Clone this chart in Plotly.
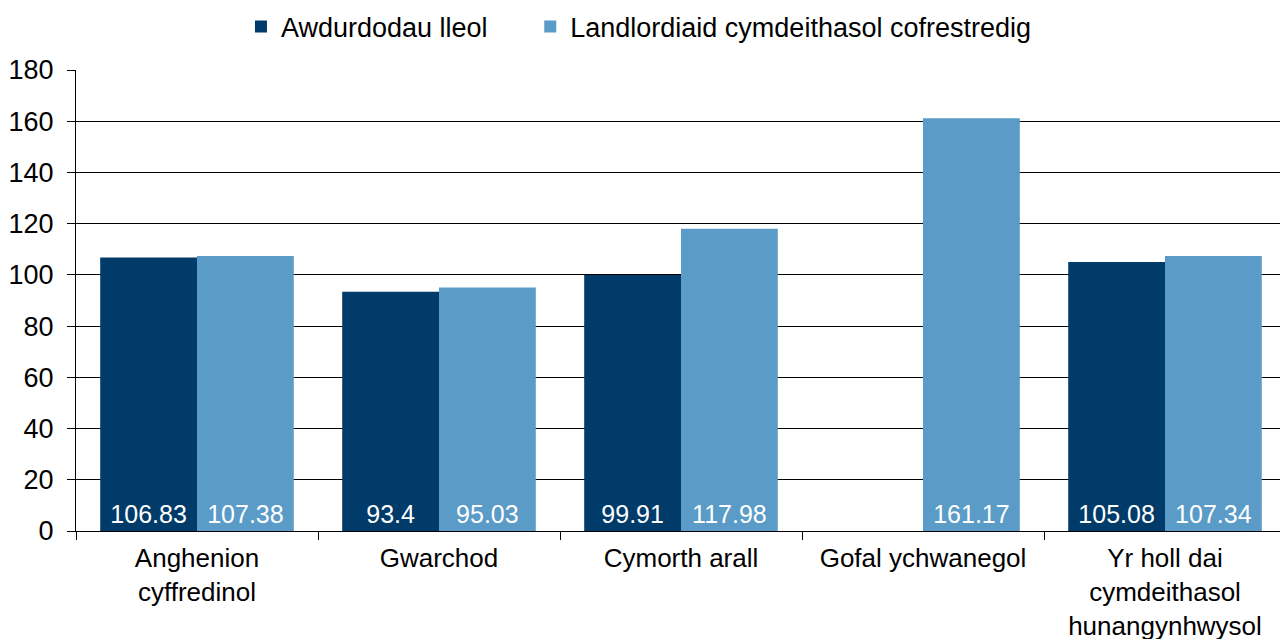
import plotly.graph_objects as go

categories = ["Anghenion<br>cyffredinol", "Gwarchod", "Cymorth arall", "Gofal ychwanegol",
              "Yr holl dai<br>cymdeithasol<br>hunangynhwysol"]
series_names = ["Awdurdodau lleol", "Landlordiaid cymdeithasol cofrestredig"]
awdurdodau = [106.83, 93.4, 99.91, None, 105.08]
landlordiaid = [107.38, 95.03, 117.98, 161.17, 107.34]
colors = ["#003B69", "#5B9BC8"]
y_ticks = [0, 20, 40, 60, 80, 100, 120, 140, 160, 180]
legend_ids = ["legend", "legend2"]

font = "Liberation Sans, Arial, sans-serif"

fig = go.Figure()
for name, vals, col, lg in zip(series_names, [awdurdodau, landlordiaid], colors, legend_ids):
    fig.add_trace(go.Bar(
        x=categories, y=vals, name=name, marker=dict(color=col, line=dict(width=0)),
        text=[("" if v is None else f"{v:g}") for v in vals],
        textposition="inside", insidetextanchor="start",
        textfont=dict(color="white", size=25, family=font),
        textangle=0, cliponaxis=False, legend=lg,
    ))

legend_common = dict(orientation="h", xref="container", xanchor="left",
                     yref="container", y=0.97, yanchor="middle",
                     font=dict(size=27), bgcolor="rgba(0,0,0,0)")
fig.update_layout(
    width=1280, height=631,
    margin=dict(l=68, r=2, t=62, b=108, autoexpand=False),
    barmode="group", bargap=0.2, bargroupgap=0,
    plot_bgcolor="white", paper_bgcolor="white",
    font=dict(family=font, size=27, color="black"),
    uniformtext=dict(minsize=25, mode="show"),
    legend=dict(x=0.182, **legend_common),
    legend2=dict(x=0.408, **legend_common),
    showlegend=True,
)
fig.update_xaxes(showline=True, linecolor="black", linewidth=1, ticks="outside",
                 tickson="boundaries", ticklen=8, tickcolor="black", automargin=False,
                 ticklabelstandoff=4, tickfont=dict(size=26),
                 showgrid=False, mirror=False)
fig.update_yaxes(range=[0, 180], tickvals=y_ticks, showline=True, linecolor="black",
                 linewidth=1, ticks="outside", ticklen=8, tickcolor="black",
                 ticklabelstandoff=8, automargin=False,
                 showgrid=True, gridcolor="black", gridwidth=1, zeroline=False)
fig.add_shape(type="line", xref="paper", yref="paper", x0=1, x1=1, y0=0, y1=1,
              line=dict(color="#C8C8C8", width=1))
fig.write_html("out.html")
